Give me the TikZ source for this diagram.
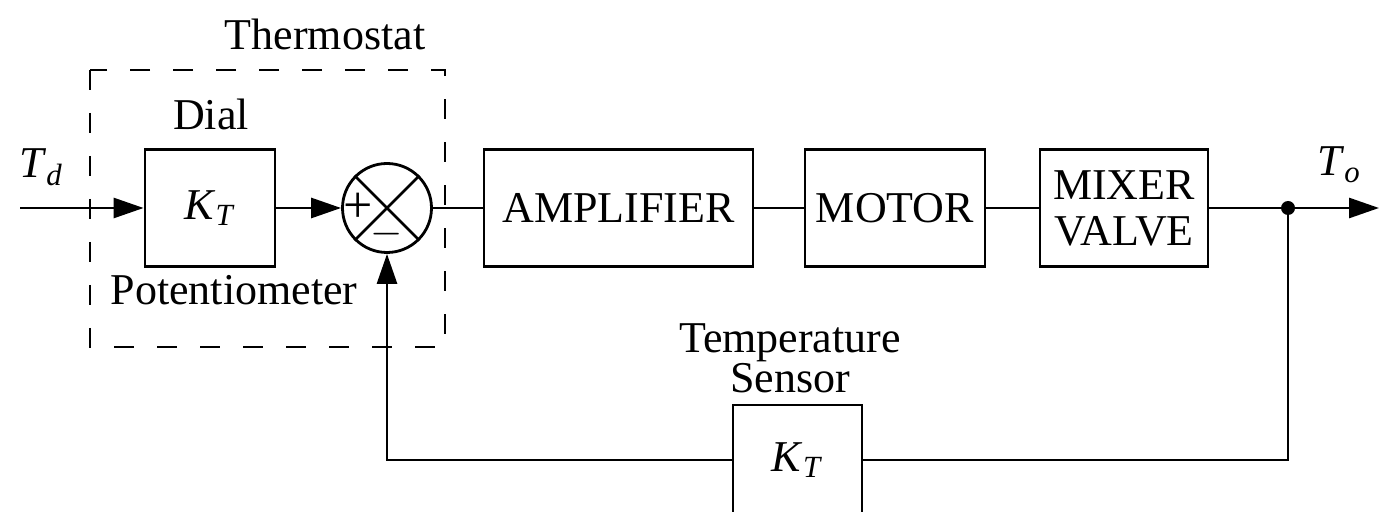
\documentclass[tikz,border=0pt]{standalone}
\usepackage{fontspec}
\setmainfont{Liberation Serif}
\usetikzlibrary{arrows.meta}
\newcommand{\gainK}{\textit{K}\textsubscript{\textit{T}}}
\tikzset{
  sc/.style={x=.5pt,y=-.5pt,line width=1.4pt,font=\fontsize{22}{23}\selectfont},
  blk/.style={draw,minimum height=58.5pt,inner sep=0pt,align=center},
  arr/.style={-{Triangle[length=15pt,width=10pt]}},
  lbl/.style={anchor=base,inner sep=0pt}
}

\begin{document}
\begin{tikzpicture}[sc]
  \useasboundingbox (0,0) rectangle (1379,512);
  \clip (0,0) rectangle (1379,512);
  % thermostat frame
  \draw[line width=1.2pt,dash pattern=on 10pt off 11.5pt] (90,70) rectangle (445,347);
  \node[lbl] (thermo) at (325,50) {Thermostat};
  \node[lbl] (dialtxt) at (211,130) {Dial};
  \node[lbl] (pottxt) at (234,305) {Potentiometer};
  % blocks
  \node[blk,minimum width=65pt] (dial) at (210,208) {\gainK};
  \node[draw,circle,minimum size=44.5pt,inner sep=0pt] (sum) at (387,208) {};
  \draw (sum.north west)--(sum.south east) (sum.north east)--(sum.south west);
  \node[inner sep=0pt,font=\fontsize{26}{26}\selectfont] (plus) at ([xshift=8.5pt]sum.west) {+};
  \node[inner sep=0pt] (minus) at ([yshift=10pt]sum.south) {$-$};
  \node[blk,minimum width=134.5pt] (amp) at (618.5,208) {AMPLIFIER};
  \node[blk,minimum width=90pt] (mot) at (895,208) {MOTOR};
  \node[blk,minimum width=84pt] (mix) at (1124,208) {MIXER\\VALVE};
  \node[blk,minimum width=64.5pt,minimum height=55pt] (sens) at (797.5,460) {\gainK};
  \node[lbl] (senstxt1) at (790,353) {Temperature};
  \node[lbl] (senstxt2) at (790,393) {Sensor};
  \node[circle,fill,inner sep=0pt,minimum size=7pt] (tap) at (1288,208) {};
  \coordinate (in) at (20,208);
  \coordinate (out) at (1379,208);
  \node[anchor=base west,inner sep=0pt] (td) at (18,178) {\textit{T}\textsubscript{\textit{d}}};
  \node[anchor=base west,inner sep=0pt] (to) at (1316,176) {\textit{T}\textsubscript{\textit{o}}};
  % signal paths
  \draw[arr] (in) -- (dial.west);
  \draw[arr] (dial.east) -- (sum.west);
  \draw (sum.east) -- (amp.west);
  \draw (amp.east) -- (mot.west);
  \draw (mot.east) -- (mix.west);
  \draw[arr] (mix.east) -- (out);
  \draw (tap.center) |- (sens.east);
  \draw[arr] (sens.west) -| (sum.south);
\end{tikzpicture}
\end{document}
